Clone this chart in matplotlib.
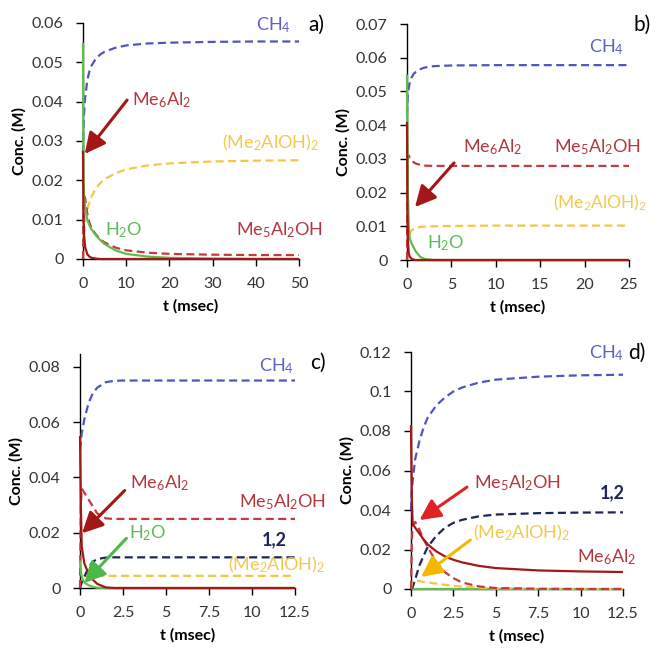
import matplotlib
matplotlib.use('Agg')
import matplotlib.pyplot as plt
from matplotlib.ticker import FuncFormatter

plt.rcParams['font.family'] = ['Lato', 'DejaVu Sans']
plt.rcParams['mathtext.fontset'] = 'custom'
plt.rcParams['mathtext.rm'] = 'Lato'
plt.rcParams['mathtext.it'] = 'Lato:italic'
plt.rcParams['mathtext.bf'] = 'Lato:bold'

# ---- panel a (0-50 msec) ----
a_t = [0, 0.1, 0.25, 0.5, 1, 1.5, 2, 3, 4, 5, 7.5, 10, 15, 20, 30, 40, 50]
a_ch4 = [0.027, 0.033, 0.037, 0.041, 0.0455, 0.0478, 0.0492, 0.051, 0.052, 0.0527, 0.0537, 0.0543, 0.0548, 0.055, 0.0552, 0.0553, 0.0553]
a_h2o = [0.055, 0.02, 0.016, 0.013, 0.010, 0.0085, 0.0075, 0.006, 0.0048, 0.0038, 0.0022, 0.0013, 0.0006, 0.0003, 0.0001, 0.0, 0.0]
a_me6 = [0.0275, 0.012, 0.006, 0.003, 0.0012, 0.0006, 0.0003, 0.0001, 0, 0, 0, 0, 0, 0, 0, 0, 0]
a_me5 = [0.0, 0.012, 0.016, 0.0155, 0.0115, 0.0092, 0.0078, 0.0062, 0.0050, 0.0042, 0.0029, 0.0022, 0.0016, 0.0013, 0.0011, 0.001, 0.001]
a_dimer = [0.0, 0.004, 0.007, 0.0095, 0.0125, 0.0145, 0.016, 0.018, 0.0193, 0.0203, 0.0218, 0.0228, 0.0238, 0.0243, 0.0248, 0.025, 0.0251]

# ---- panel b (0-25 msec) ----
b_t = [0, 0.05, 0.1, 0.2, 0.3, 0.5, 0.75, 1, 1.5, 2, 3, 5, 10, 15, 20, 25]
b_ch4 = [0.043, 0.047, 0.049, 0.051, 0.0525, 0.054, 0.0552, 0.0558, 0.0566, 0.0571, 0.0575, 0.0577, 0.0578, 0.0578, 0.0578, 0.0578]
b_h2o = [0.055, 0.035, 0.02, 0.01, 0.0065, 0.005, 0.0037, 0.0025, 0.0009, 0.0003, 0.0, 0, 0, 0, 0, 0]
b_me6 = [0.041, 0.015, 0.006, 0.002, 0.001, 0.0004, 0.0001, 0, 0, 0, 0, 0, 0, 0, 0, 0]
b_me5 = [0.0, 0.025, 0.0305, 0.031, 0.0303, 0.0295, 0.029, 0.0286, 0.0282, 0.028, 0.0279, 0.0279, 0.0279, 0.0279, 0.0279, 0.0279]
b_dimer = [0.0, 0.003, 0.005, 0.007, 0.0078, 0.0087, 0.0092, 0.0095, 0.0098, 0.0099, 0.01, 0.0101, 0.0102, 0.0102, 0.0102, 0.0102]

# ---- panel c (0-12.5 msec) ----
c_t = [0, 0.05, 0.1, 0.25, 0.5, 0.75, 1, 1.5, 2, 2.5, 5, 7.5, 10, 12.5]
c_ch4 = [0.05, 0.053, 0.056, 0.061, 0.067, 0.0705, 0.0725, 0.0745, 0.075, 0.0751, 0.0751, 0.0751, 0.0751, 0.0751]
c_h2o = [0.01, 0.006, 0.004, 0.002, 0.001, 0.0004, 0.0001, 0, 0, 0, 0, 0, 0, 0]
c_me6 = [0.055, 0.03, 0.015, 0.009, 0.005, 0.003, 0.0015, 0.0002, 0, 0, 0, 0, 0, 0]
c_me5 = [0.0, 0.03, 0.036, 0.0345, 0.032, 0.0295, 0.027, 0.0252, 0.025, 0.025, 0.025, 0.025, 0.025, 0.025]
c_12 = [0.0, 0.001, 0.002, 0.004, 0.0075, 0.0095, 0.0105, 0.011, 0.0111, 0.0111, 0.0111, 0.0111, 0.0111, 0.0111]
c_dimer = [0.0, 0.002, 0.0035, 0.0042, 0.0044, 0.0044, 0.0044, 0.0044, 0.0044, 0.0044, 0.0044, 0.0044, 0.0044, 0.0044]

# ---- panel d (0-12.5 msec) ----
d_t = [0, 0.05, 0.1, 0.25, 0.5, 0.75, 1, 1.5, 2, 2.5, 3, 4, 5, 7.5, 10, 12.5]
d_ch4 = [0.04, 0.05, 0.055, 0.066, 0.075, 0.082, 0.087, 0.093, 0.097, 0.1, 0.102, 0.1045, 0.106, 0.1075, 0.1082, 0.1085]
d_h2o = [0.001, 0.0002, 0, 0, 0, 0, 0, 0, 0, 0, 0, 0, 0, 0, 0, 0]
d_me6 = [0.083, 0.045, 0.033, 0.031, 0.028, 0.025, 0.0225, 0.019, 0.0165, 0.0148, 0.0135, 0.0117, 0.0106, 0.0094, 0.0089, 0.0086]
d_me5 = [0.0, 0.025, 0.032, 0.034, 0.03, 0.025, 0.021, 0.0135, 0.0085, 0.0055, 0.0033, 0.0013, 0.0005, 0.0001, 0.0, 0.0]
d_12 = [0.0, 0.0005, 0.001, 0.005, 0.012, 0.017, 0.0215, 0.027, 0.031, 0.0335, 0.035, 0.0368, 0.0377, 0.0384, 0.0387, 0.0388]
d_dimer = [0.0, 0.003, 0.004, 0.0042, 0.004, 0.0036, 0.0033, 0.0027, 0.0021, 0.0016, 0.0012, 0.0007, 0.0004, 0.0001, 0.0, 0.0]

# colours
C_CH4 = '#4E56BC'
C_ME6 = '#A31717'
C_ME5 = '#C6393C'
C_DIM = '#F3C745'
C_H2O = '#5DBE4C'
C_12 = '#1E2658'
T_CH4 = '#5B62C4'
T_RED = '#B3373D'
T_DIM = '#F2C94E'
T_H2O = '#5CBB5A'

DASH = (0, (3.6, 2.0))
W, H = 656, 650

fig = plt.figure(figsize=(6.56, 6.5), dpi=100)


def make_axes(l, r, b, t):
    # pixel box -> figure fraction
    return fig.add_axes([l / W, 1 - b / H, (r - l) / W, (b - t) / H])


def style(ax, xmax, xstep, ymax, ystep, ytop):
    ax.set_xlim(0, xmax)
    ax.set_ylim(0, ytop)
    n = int(round(xmax / xstep))
    ax.set_xticks([i * xstep for i in range(n + 1)])
    m = int(round(ymax / ystep))
    ax.set_yticks([round(i * ystep, 3) for i in range(m + 1)])
    ax.xaxis.set_major_formatter(FuncFormatter(lambda v, p: f'{v:g}'))
    ax.yaxis.set_major_formatter(FuncFormatter(lambda v, p: f'{v:g}'))
    for s in ['top', 'right']:
        ax.spines[s].set_visible(False)
    for s in ['left', 'bottom']:
        ax.spines[s].set_linewidth(1.0)
        ax.spines[s].set_zorder(1)
    ax.tick_params(direction='out', length=5, width=1, labelsize=11.5,
                   labelcolor='#333333')
    ax.tick_params(axis='y', pad=9)
    ax.tick_params(axis='x', pad=8)
    ax.set_xlabel('t (msec)', fontsize=11.5, fontweight='bold', labelpad=6)
    ax.set_ylabel('Conc. (M)', fontsize=11.5, fontweight='bold', labelpad=4)


def line(ax, t, y, color, dashed=False, lw=1.6):
    ax.plot(t, y, color=color, lw=lw, ls=DASH if dashed else '-',
            zorder=3, clip_on=False, solid_capstyle='butt')


def label(ax, x, y, s, color, **kw):
    ax.text(x, y, s, color=color, fontsize=13, ha='center', va='center', **kw)


def arrow(ax, tail, head, color):
    ax.annotate('', xy=head, xytext=tail,
                arrowprops=dict(arrowstyle='-|>,head_length=0.9,head_width=0.45',
                                color=color, lw=2.2, mutation_scale=14,
                                shrinkA=0, shrinkB=0), zorder=6)


# ---------------- a ----------------
ax = make_axes(83, 299, 259, 23)
style(ax, 50, 10, 0.06, 0.01, 0.06)
line(ax, a_t, a_ch4, C_CH4, True)
line(ax, a_t, a_dimer, C_DIM, True)
line(ax, a_t, a_me5, C_ME5, True)
line(ax, a_t, a_h2o, C_H2O)
line(ax, a_t, a_me6, C_ME6)
label(ax, 44, 0.0595, r'CH$_4$', T_CH4)
label(ax, 18.3, 0.0404, r'Me$_6$Al$_2$', T_RED)
arrow(ax, (10.2, 0.0404), (0.4, 0.0267), C_ME6)
label(ax, 43.5, 0.0295, r'(Me$_2$AlOH)$_2$', T_DIM)
label(ax, 9.3, 0.0074, r'H$_2$O', T_H2O)
label(ax, 45.6, 0.0074, r'Me$_5$Al$_2$OH', T_RED)
fig.text(316 / W, 1 - 25 / H, 'a)', fontsize=15, ha='center', va='center')

# ---------------- b ----------------
ax = make_axes(407, 629, 260, 24)
style(ax, 25, 5, 0.07, 0.01, 0.07)
line(ax, b_t, b_ch4, C_CH4, True)
line(ax, b_t, b_dimer, C_DIM, True)
line(ax, b_t, b_me5, C_ME5, True)
line(ax, b_t, b_h2o, C_H2O)
line(ax, b_t, b_me6, C_ME6)
label(ax, 22.5, 0.0632, r'CH$_4$', T_CH4)
label(ax, 9.6, 0.0335, r'Me$_6$Al$_2$', T_RED)
label(ax, 21.5, 0.0335, r'Me$_5$Al$_2$OH', T_RED)
arrow(ax, (5.3, 0.0288), (0.9, 0.0157), C_ME6)
ax.text(16.4, 0.0169, r'(Me$_2$AlOH)$_2$', color=T_DIM, fontsize=12.5,
        ha='left', va='center')
label(ax, 4.4, 0.005, r'H$_2$O', T_H2O)
fig.text(642 / W, 1 - 25 / H, 'b)', fontsize=15, ha='center', va='center')

# ---------------- c ----------------
ax = make_axes(80, 295, 588, 354)
style(ax, 12.5, 2.5, 0.08, 0.02, 0.0847)
line(ax, c_t, c_ch4, C_CH4, True)
line(ax, c_t, c_dimer, C_DIM, True)
line(ax, c_t, c_12, C_12, True)
line(ax, c_t, c_me5, C_ME5, True)
line(ax, c_t, c_h2o, C_H2O)
line(ax, c_t, c_me6, C_ME6)
label(ax, 11.4, 0.0804, r'CH$_4$', T_CH4)
label(ax, 4.65, 0.0378, r'Me$_6$Al$_2$', T_RED)
arrow(ax, (2.6, 0.0353), (0.12, 0.0198), C_ME6)
label(ax, 11.8, 0.031, r'Me$_5$Al$_2$OH', T_RED)
label(ax, 3.95, 0.0198, r'H$_2$O', T_H2O)
arrow(ax, (2.7, 0.018), (0.25, 0.0018), '#4CB848')
label(ax, 11.3, 0.0173, '1,2', C_12, fontweight='bold')
label(ax, 11.45, 0.0083, r'(Me$_2$AlOH)$_2$', T_DIM)
fig.text(318 / W, 1 - 363 / H, 'c)', fontsize=15, ha='center', va='center')

# ---------------- d ----------------
ax = make_axes(411, 623, 589, 352)
style(ax, 12.5, 2.5, 0.12, 0.02, 0.12)
line(ax, d_t, d_ch4, C_CH4, True)
line(ax, d_t, d_h2o, C_H2O)
line(ax, d_t, d_12, C_12, True)
line(ax, d_t, d_dimer, C_DIM, True)
line(ax, d_t, d_me5, C_ME5, True)
line(ax, d_t, d_me6, C_ME6)
label(ax, 11.55, 0.1195, r'CH$_4$', T_CH4)
label(ax, 6.3, 0.0537, r'Me$_5$Al$_2$OH', T_RED)
arrow(ax, (3.3, 0.0516), (0.5, 0.0349), '#E02222')
label(ax, 11.85, 0.0486, '1,2', C_12, fontweight='bold')
label(ax, 6.5, 0.0284, r'(Me$_2$AlOH)$_2$', T_DIM)
arrow(ax, (3.5, 0.0248), (0.6, 0.0061), '#F5B800')
label(ax, 11.55, 0.0162, r'Me$_6$Al$_2$', T_RED)
fig.text(637 / W, 1 - 353 / H, 'd)', fontsize=15, ha='center', va='center')

fig.savefig('out.png', dpi=100, facecolor='white')
